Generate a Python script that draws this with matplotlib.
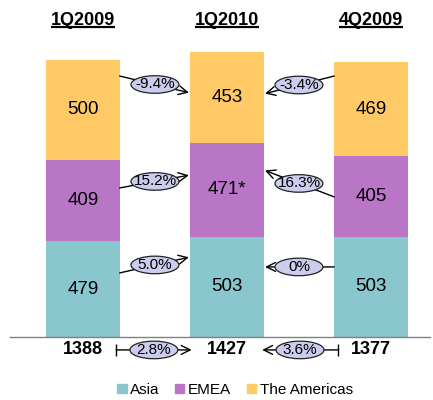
import matplotlib
matplotlib.use('Agg')
import matplotlib.pyplot as plt
from matplotlib.patches import Ellipse, Patch

plt.rcParams['font.family'] = ['Liberation Sans', 'DejaVu Sans']

# data
quarters = ['1Q2009', '1Q2010', '4Q2009']
regions = ['Asia', 'EMEA', 'The Americas']
asia = [479, 503, 503]
emea = [409, 471, 405]
americas = [500, 453, 469]
emea_labels = ['409', '471*', '405']
totals = [1388, 1427, 1377]
colors = ['#8AC6CD', '#B975C6', '#FFCA66']

# % changes between bars: (from bar, to bar, label, y at start, y at end)
changes = [
    (0, 1, '-9.4%', 1308, 1223),
    (2, 1, '-3.4%', 1308, 1218),
    (0, 1, '15.2%', 747, 812),
    (2, 1, '16.3%', 702, 837),
    (0, 1, '5.0%', 321, 401),
    (2, 1, '0%', 351, 351),
]
total_changes = [(0, 1, '2.8%'), (2, 1, '3.6%')]

fig = plt.figure(figsize=(4.33, 4.0), dpi=100)
ax = fig.add_axes([0, 0, 1, 1])
ax.set_xlim(-0.576, 2.431)
ax.set_ylim(-316, 1689)
ax.axis('off')

x = [0, 1, 2]
w = 0.51
bottom2 = [a + e for a, e in zip(asia, emea)]
ax.bar(x, asia, w, color=colors[0])
ax.bar(x, emea, w, bottom=asia, color=colors[1])
ax.bar(x, americas, w, bottom=bottom2, color=colors[2])

for i in x:
    ax.text(i, asia[i] / 2, str(asia[i]), ha='center', va='center', fontsize=13.5)
    ax.text(i, asia[i] + emea[i] / 2, emea_labels[i], ha='center', va='center', fontsize=13.5)
    ax.text(i, bottom2[i] + americas[i] / 2, str(americas[i]), ha='center', va='center', fontsize=13.5)
    ax.text(i, -65, str(totals[i]), ha='center', va='center', fontsize=13, fontweight='bold')

# baseline
ax.axhline(0, xmin=10 / 433, xmax=430 / 433, color='#808080', lw=1)

# titles with underline
titles = []
for i, q in enumerate(quarters):
    titles.append(ax.text(i, 1564, q, ha='center', va='baseline', fontsize=13, fontweight='bold'))
fig.canvas.draw()
inv = ax.transData.inverted()
for t in titles:
    bb = t.get_window_extent()
    (x0, _), (x1, _) = inv.transform([(bb.x0, 0), (bb.x1, 0)])
    ax.plot([x0, x1], [1552, 1552], color='black', lw=1.6, solid_capstyle='butt')

ell_w, ell_h = 0.333, 88
ell_fc = '#CCCCEE'


def bubble(xc, yc, label):
    ax.add_patch(Ellipse((xc, yc), ell_w, ell_h, fc=ell_fc, ec='#222222', lw=0.9, zorder=5))
    ax.text(xc, yc, label, ha='center', va='center', fontsize=11, zorder=6)


for a, b, label, ys, ye in changes:
    sgn = 1 if b > a else -1
    xs = a + sgn * w / 2
    xe = b - sgn * w / 2
    ax.annotate('', xy=(xe, ye), xytext=(xs, ys),
                arrowprops=dict(arrowstyle='->', color='black', lw=1,
                                shrinkA=0, shrinkB=1, mutation_scale=16))
    bubble((xs + xe) / 2, (ys + ye) / 2, label)

for a, b, label in total_changes:
    sgn = 1 if b > a else -1
    xs = a + sgn * (w / 2 - 0.025)
    xe = b - sgn * (w / 2 - 0.01)
    ax.annotate('', xy=(xe, -65), xytext=(xs, -65),
                arrowprops=dict(arrowstyle='->', color='black', lw=1,
                                shrinkA=0, shrinkB=0, mutation_scale=16))
    ax.plot([xs], [-65], marker='|', markersize=9, color='black', mew=1)
    bubble((xs + xe) / 2, -65, label)

handles = [Patch(color=c, label=r) for c, r in zip(colors, regions)]
fig.legend(handles=handles, loc='center', bbox_to_anchor=(235 / 433, 1 - 390 / 400),
           ncol=3, frameon=False, fontsize=11, handlelength=0.6, handleheight=0.6,
           handletextpad=0.25, columnspacing=1.0)

fig.savefig('out.png', dpi=100)
